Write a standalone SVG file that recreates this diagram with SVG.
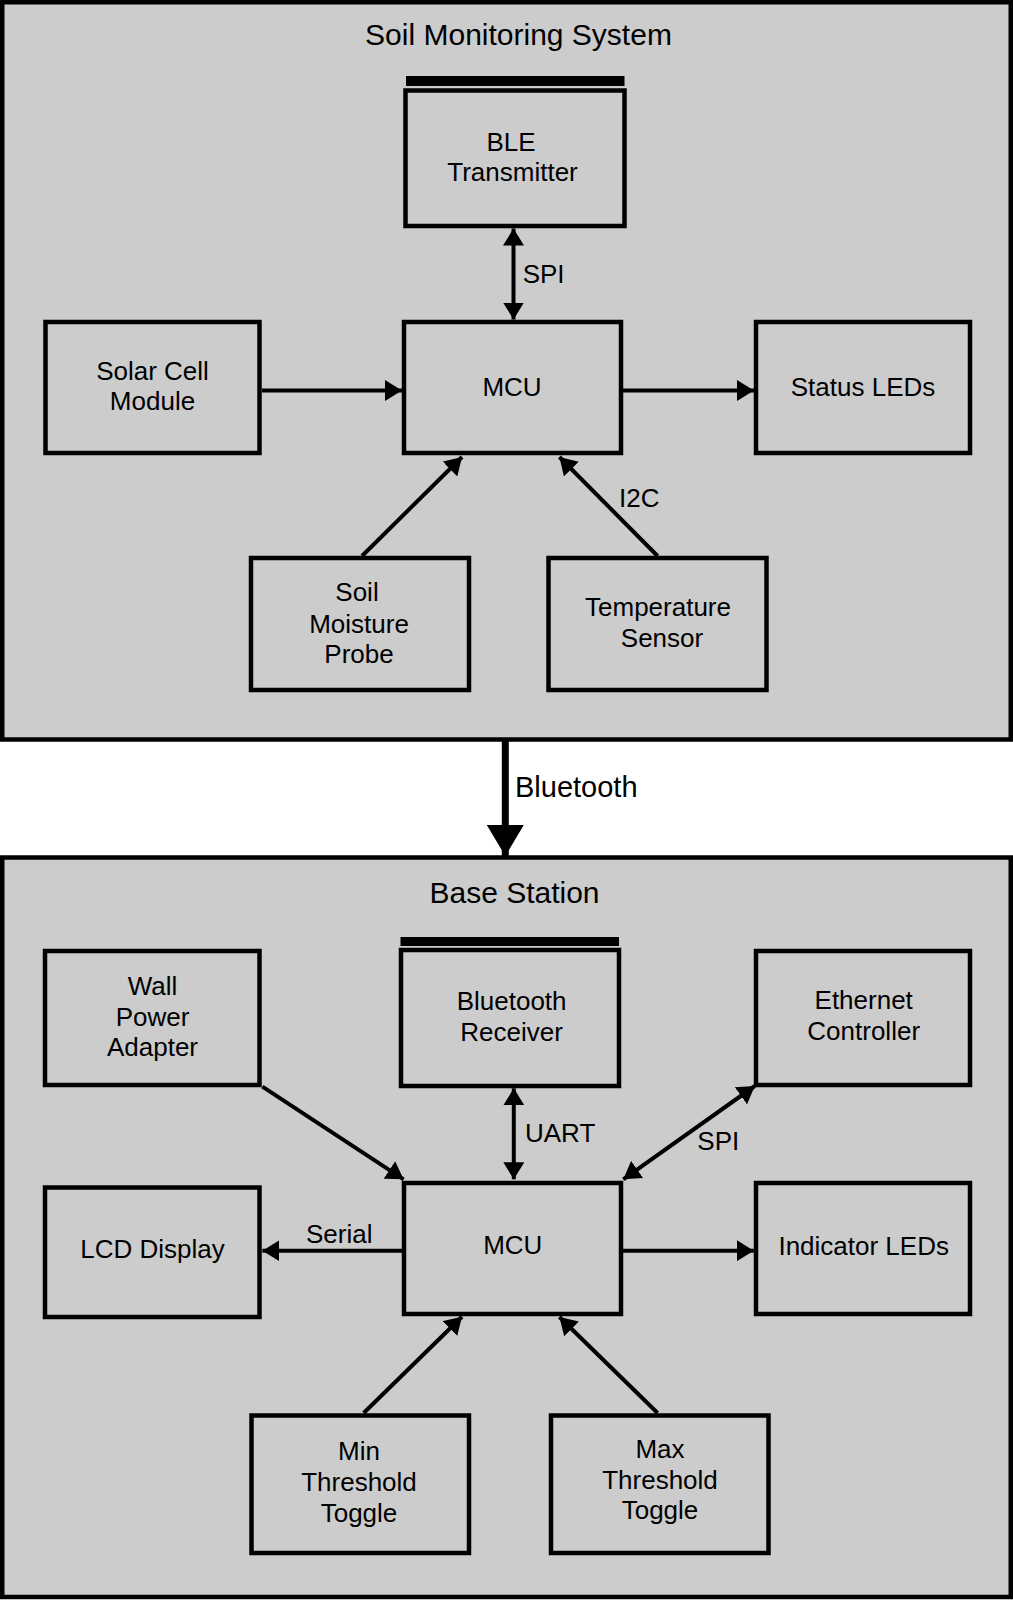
<svg xmlns="http://www.w3.org/2000/svg" width="1013" height="1600" viewBox="0 0 1013 1600">
<style>
.cont{fill:#cccccc;stroke:#000;stroke-width:4.5}
.box{fill:#cccccc;stroke:#000;stroke-width:4.5}
.bar{fill:#000}
.t{font-family:"Liberation Sans",Arial,sans-serif;font-size:26px;fill:#000;text-anchor:middle}
.title{font-family:"Liberation Sans",Arial,sans-serif;font-size:30px;fill:#000;text-anchor:middle}
.lbl{font-family:"Liberation Sans",Arial,sans-serif;font-size:26px;fill:#000}
.big{font-family:"Liberation Sans",Arial,sans-serif;font-size:29px;fill:#000}
.c{fill:none;stroke:#000;stroke-width:4}
.cb{fill:none;stroke:#000;stroke-width:7}
</style>
<defs>
<marker id="ah" markerUnits="userSpaceOnUse" markerWidth="18" markerHeight="21" refX="17" refY="10.5" orient="auto-start-reverse">
<path d="M0,0 L17,10.5 L0,21 z" fill="#000"/>
</marker>
<marker id="ahb" markerUnits="userSpaceOnUse" markerWidth="32" markerHeight="38" refX="31" refY="18.5" orient="auto">
<path d="M0,0 L31,18.5 L0,37 z" fill="#000"/>
</marker>
</defs>
<rect width="1013" height="1600" fill="#fff"/>

<g id="soil-monitoring-system">
<rect class="cont" x="2.25" y="2.25" width="1008.5" height="737.25"/>
<text class="title" x="518.5" y="45">Soil Monitoring System</text>
</g>
<g id="base-station">
<rect class="cont" x="2.25" y="857.5" width="1008.5" height="739.5"/>
<text class="title" x="514.5" y="903">Base Station</text>
</g>

<g id="ble-transmitter">
<rect class="bar" x="406" y="76" width="218.5" height="10"/>
<rect class="box" x="405.5" y="90.5" width="219" height="135.5"/>
<text class="t" x="511" y="150.7">BLE</text>
<text class="t" x="512.5" y="181">Transmitter</text>
</g>
<g id="mcu-top">
<rect class="box" x="404" y="322" width="217" height="131"/>
<text class="t" x="512" y="396">MCU</text>
</g>
<g id="solar-cell-module">
<rect class="box" x="45.5" y="322" width="214" height="131"/>
<text class="t" x="152.5" y="380">Solar Cell</text>
<text class="t" x="152.5" y="410">Module</text>
</g>
<g id="status-leds">
<rect class="box" x="756" y="322" width="214" height="131"/>
<text class="t" x="863" y="396">Status LEDs</text>
</g>
<g id="soil-moisture-probe">
<rect class="box" x="251" y="558" width="218" height="132"/>
<text class="t" x="357" y="601">Soil</text>
<text class="t" x="359" y="632.7">Moisture</text>
<text class="t" x="359" y="662.7">Probe</text>
</g>
<g id="temperature-sensor">
<rect class="box" x="548.5" y="558" width="218" height="132"/>
<text class="t" x="658" y="615.7">Temperature</text>
<text class="t" x="662" y="646.7">Sensor</text>
</g>

<g id="bluetooth-receiver">
<rect class="bar" x="400.5" y="937" width="218.5" height="9"/>
<rect class="box" x="401" y="950" width="218" height="136"/>
<text class="t" x="511.6" y="1010">Bluetooth</text>
<text class="t" x="511.6" y="1040.5">Receiver</text>
</g>
<g id="wall-power-adapter">
<rect class="box" x="45" y="951" width="214.5" height="134"/>
<text class="t" x="152.5" y="995">Wall</text>
<text class="t" x="152.5" y="1026">Power</text>
<text class="t" x="152.5" y="1056">Adapter</text>
</g>
<g id="ethernet-controller">
<rect class="box" x="756" y="951" width="214" height="134"/>
<text class="t" x="863.7" y="1009">Ethernet</text>
<text class="t" x="863.7" y="1040">Controller</text>
</g>
<g id="mcu-base">
<rect class="box" x="404" y="1183" width="217" height="131"/>
<text class="t" x="512.8" y="1254.3">MCU</text>
</g>
<g id="lcd-display">
<rect class="box" x="45" y="1187.5" width="214.5" height="129.5"/>
<text class="t" x="152.5" y="1258.3">LCD Display</text>
</g>
<g id="indicator-leds">
<rect class="box" x="756" y="1183" width="214" height="131"/>
<text class="t" x="863.7" y="1255">Indicator LEDs</text>
</g>
<g id="min-threshold-toggle">
<rect class="box" x="251.5" y="1415.5" width="217.5" height="137.5"/>
<text class="t" x="359" y="1460">Min</text>
<text class="t" x="359" y="1490.7">Threshold</text>
<text class="t" x="359" y="1521.7">Toggle</text>
</g>
<g id="max-threshold-toggle">
<rect class="box" x="551" y="1415.5" width="217.5" height="137.5"/>
<text class="t" x="660" y="1457.7">Max</text>
<text class="t" x="660" y="1489">Threshold</text>
<text class="t" x="660" y="1519.3">Toggle</text>
</g>

<g id="connectors">
<line class="c" x1="513.5" y1="228.5" x2="513.5" y2="319.5" marker-start="url(#ah)" marker-end="url(#ah)"/>
<text class="lbl" x="522.7" y="283.3">SPI</text>
<line class="c" x1="262" y1="390.5" x2="402" y2="390.5" marker-end="url(#ah)"/>
<line class="c" x1="622" y1="390.5" x2="754" y2="390.5" marker-end="url(#ah)"/>
<line class="c" x1="362" y1="556" x2="462" y2="457" marker-end="url(#ah)"/>
<line class="c" x1="657.6" y1="556" x2="559.4" y2="457" marker-end="url(#ah)"/>
<text class="lbl" x="619" y="506.7">I2C</text>

<line class="cb" x1="505.3" y1="741" x2="505.3" y2="856" marker-end="url(#ahb)"/>
<text class="big" x="515" y="796.7">Bluetooth</text>

<line class="c" x1="262.4" y1="1086.7" x2="403.6" y2="1179.3" marker-end="url(#ah)"/>
<line class="c" x1="513.8" y1="1088.3" x2="513.8" y2="1179.3" marker-start="url(#ah)" marker-end="url(#ah)"/>
<text class="lbl" x="525" y="1142.3">UART</text>
<line class="c" x1="754.8" y1="1086" x2="623.3" y2="1179.3" marker-start="url(#ah)" marker-end="url(#ah)"/>
<text class="lbl" x="697.3" y="1150">SPI</text>
<line class="c" x1="402" y1="1250.7" x2="262.4" y2="1250.7" marker-end="url(#ah)"/>
<text class="lbl" x="306" y="1242.7">Serial</text>
<line class="c" x1="622" y1="1250.7" x2="753.8" y2="1250.7" marker-end="url(#ah)"/>
<line class="c" x1="363.7" y1="1413" x2="462" y2="1316.7" marker-end="url(#ah)"/>
<line class="c" x1="657.6" y1="1413" x2="559.4" y2="1317" marker-end="url(#ah)"/>
</g>
</svg>
